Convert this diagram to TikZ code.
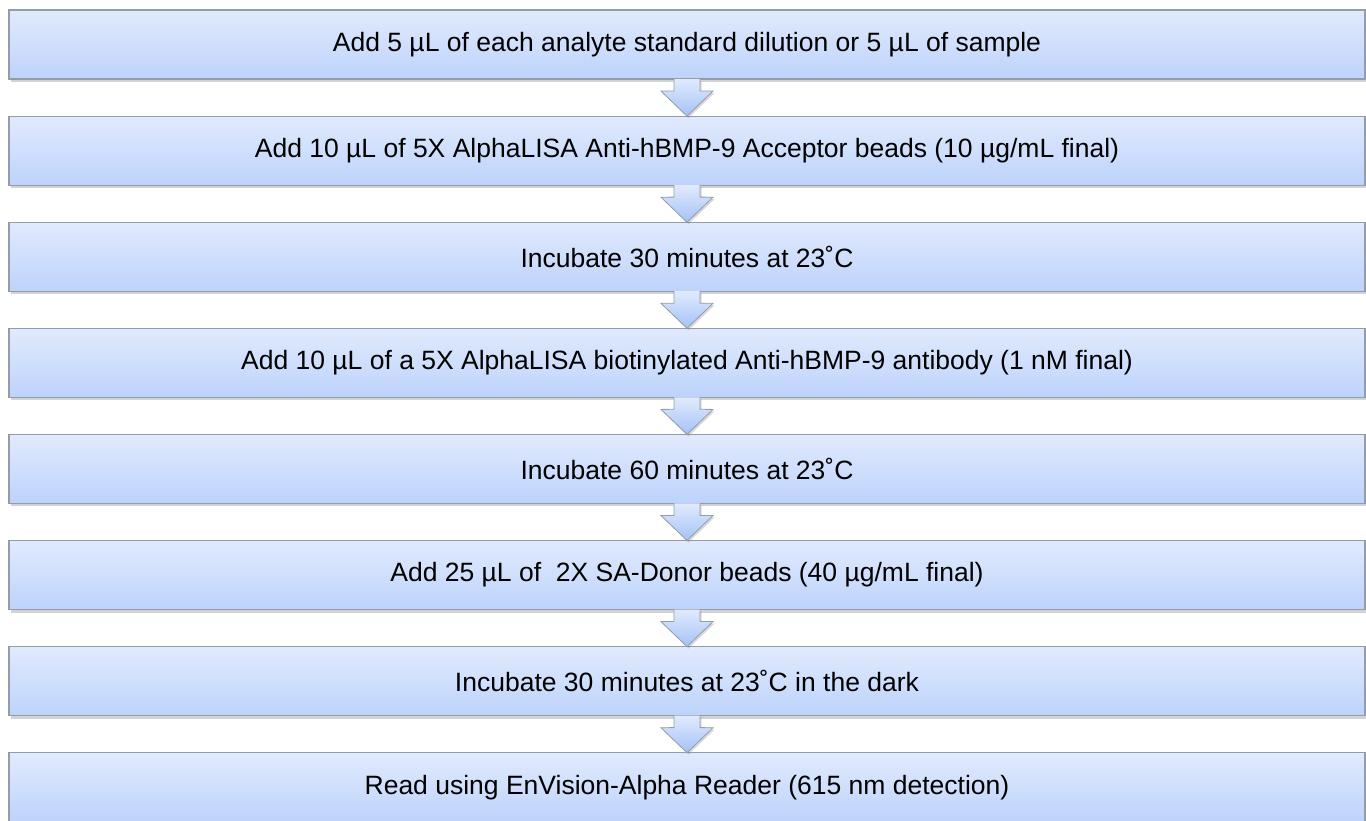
\documentclass[tikz,border=0pt]{standalone}
\usepackage{fontspec}
\setmainfont{Liberation Sans}
\usetikzlibrary{positioning,shadows,calc}
\definecolor{boxtop}{RGB}{225,234,253}
\definecolor{boxbot}{RGB}{189,211,251}
\definecolor{arrowbot}{RGB}{164,194,246}
\definecolor{boxline}{RGB}{148,156,168}
\tikzstyle{stepbox} = [draw=boxline, line width=1.2pt, top color=boxtop, bottom color=boxbot, minimum width=1356pt, minimum height=69pt, inner sep=0pt, outer sep=0pt, font=\fontsize{26.5}{31}\selectfont, drop shadow={shadow xshift=2pt, shadow yshift=-3pt, opacity=0.35}]
\tikzstyle{blockarrow} = [draw=boxline, line width=0.8pt, top color=boxtop, bottom color=arrowbot, drop shadow={shadow xshift=1.5pt, shadow yshift=-2pt, opacity=0.3}]

\begin{document}
\begin{tikzpicture}[x=1pt, y=1pt, node distance=37.1pt]
    \useasboundingbox (0,0) rectangle (1366,-820);

    % Steps
    \node[stepbox] (s1) at (687,-44.5) {Add 5 µL of each analyte standard dilution or 5 µL of sample};
    \node[stepbox, below=of s1] (s2) {Add 10 µL of 5X AlphaLISA Anti-hBMP-9 Acceptor beads (10 µg/mL final)};
    \node[stepbox, below=of s2] (s3) {Incubate 30 minutes at 23˚C};
    \node[stepbox, below=of s3] (s4) {Add 10 µL of a 5X AlphaLISA biotinylated Anti-hBMP-9 antibody (1 nM final)};
    \node[stepbox, below=of s4] (s5) {Incubate 60 minutes at 23˚C};
    \node[stepbox, below=of s5] (s6) {Add 25 µL of\ \ 2X SA-Donor beads (40 µg/mL final)};
    \node[stepbox, below=of s6] (s7) {Incubate 30 minutes at 23˚C in the dark};
    \node[stepbox, below=of s7] (s8) {Read using EnVision-Alpha Reader (615 nm detection)};

    % Block arrows
    \foreach \i in {1,...,7}{
        \pgfmathtruncatemacro{\j}{\i+1}
        \draw[blockarrow] ($(s\i.south)+(-13,0)$) -- ($(s\i.south)+(-13,-12)$)
            -- ($(s\j.north)+(-26,25)$) -- (s\j.north) -- ($(s\j.north)+(26,25)$)
            -- ($(s\i.south)+(13,-12)$) -- ($(s\i.south)+(13,0)$);
    }
\end{tikzpicture}
\end{document}
